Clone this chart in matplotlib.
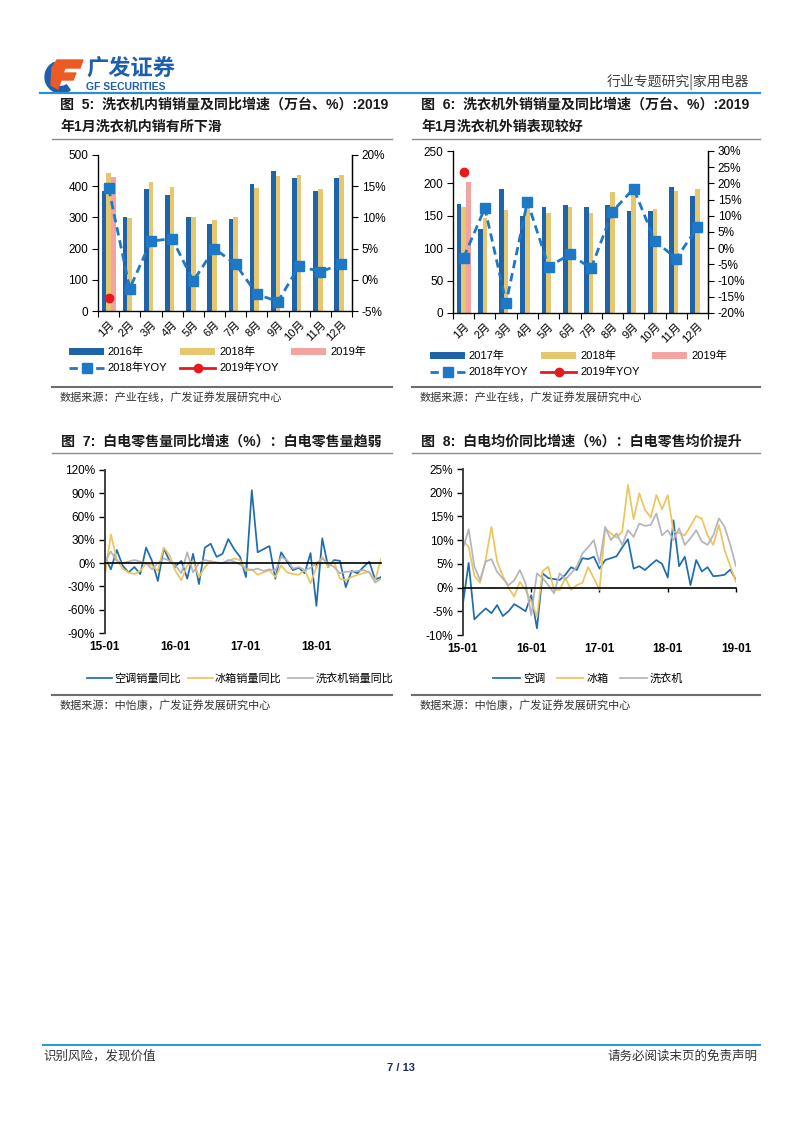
import matplotlib
matplotlib.use('Agg')
import matplotlib.pyplot as plt
import numpy as np
from matplotlib.lines import Line2D
from matplotlib.patches import Wedge, Polygon
from matplotlib.ticker import FixedLocator

plt.rcParams['font.family'] = ['Liberation Sans', 'Noto Sans CJK SC', 'DejaVu Sans']
plt.rcParams['axes.unicode_minus'] = False

# ---------------- data ----------------
months = ['1月', '2月', '3月', '4月', '5月', '6月', '7月', '8月', '9月', '10月', '11月', '12月']

dom_2016 = [386, 300, 390, 372, 302, 280, 295, 407, 450, 425, 386, 425]
dom_2018 = [443, 297, 414, 397, 301, 293, 301, 395, 433, 435, 392, 436]
dom_2019 = [430]
dom_yoy_2018 = [14.7, -1.4, 6.2, 6.6, -0.2, 5.0, 2.5, -2.3, -3.5, 2.2, 1.3, 2.5]
dom_yoy_2019 = [-2.9]

exp_2017 = [168, 130, 192, 149, 163, 167, 164, 166, 157, 157, 194, 180]
exp_2018 = [163, 147, 159, 171, 154, 164, 154, 186, 186, 160, 188, 192]
exp_2019 = [202]
exp_yoy_2018 = [-2.9, 12.4, -16.9, 14.4, -5.7, -1.9, -6.2, 11.3, 18.4, 2.3, -3.2, 6.4]
exp_yoy_2019 = [23.5]

# retail volume YoY (%), 15-01 .. 18-12
vol_ac = [8, -8, 17, -3, -12, -5, -14, 20, 3, -23, 19, 3,
          -4, 3, -20, 12, -27, 20, 25, 8, 12, 31, 18, 8,
          -18, 94, 14, 18, 22, -20, 14, 2, -9, -6, -13, 13,
          -55, 32, -5, 4, 3, -31, -10, -13, -5, 2, -21, -18]
vol_fridge = [-15, 37, 5, -7, -12, -14, -10, 0, -3, -10, 20, 10,
              -10, -22, -3, 3, -18, -5, 3, 0, 0, 3, 6, 4,
              -10, -8, -15, -12, -9, -18, -3, -12, -14, -15, -9, -26,
              -5, 8, -5, 2, -20, -22, -18, -15, -13, -11, -22, 5]
vol_washer = [3, 15, 3, 0, 2, 4, 2, 0, -8, 0, 6, 3,
              -3, -13, 14, -12, 0, 4, 2, 1, 0, 4, 2, -2,
              -7, -9, -7, -10, -8, -10, 8, 4, -7, -5, -9, -6,
              0, 6, 0, -5, -13, -11, -11, -10, -9, -12, -25, -20]
vol_ticks = ['15-01', '16-01', '17-01', '18-01']

# average price YoY (%), 15-01 .. 19-01
price_ac = [-3.3, 5.2, -6.7, -5.5, -4.4, -5.4, -3.7, -6.0, -5.0, -3.5, -4.2, -5.0,
            -1.6, -8.6, 3.0, 2.0, 1.8, 1.6, 2.7, 4.3, 3.7, 6.2, 6.0, 6.5,
            4.0, 5.8, 6.2, 6.6, 8.5, 10.2, 4.0, 4.5, 3.7, 4.8, 5.8, 5.0,
            2.1, 14.2, 4.5, 6.5, 0.5, 5.8, 3.4, 4.3, 2.4, 2.5, 2.7, 3.8, 1.6]
price_fridge = [10.0, 8.5, 2.5, 1.0, 6.0, 12.8, 5.5, 2.5, 0.0, -1.9, 1.2, -0.5,
                -3.0, -6.1, 3.5, 4.4, -0.5, -0.5, 2.0, -0.5, 0.5, 1.0, 4.3, 2.0,
                -0.5, 12.5, 11.4, 10.5, 11.8, 21.6, 14.4, 19.9, 16.4, 14.8, 19.5, 16.5,
                19.5, 11.8, 11.5, 11.0, 13.0, 15.1, 14.5, 11.0, 9.0, 13.2, 7.9, 4.5, 1.2]
price_washer = [8.3, 12.3, 4.4, 1.6, 5.5, 6.0, 3.3, 1.9, 0.5, 1.5, 3.7, 0.9,
                -5.8, 3.0, 2.0, 0.5, -1.2, 3.0, 1.7, 3.0, 4.4, 7.2, 8.5, 10.0,
                5.1, 12.8, 10.0, 11.4, 9.0, 12.1, 10.7, 13.5, 13.0, 13.2, 15.6, 11.0,
                12.1, 10.0, 12.5, 9.0, 10.4, 12.1, 9.7, 9.0, 11.0, 14.6, 12.8, 9.0, 4.5]
price_ticks = ['15-01', '16-01', '17-01', '18-01', '19-01']

# ---------------- styling ----------------
C_BLUE = '#1F64A8'
C_TAN = '#E6C76E'
C_PINK = '#F4A3A3'
C_YOY = '#1E78C8'
C_RED = '#E8191B'
C_AC = '#1F6CB0'
C_FR = '#EBC55E'
C_WA = '#B4B4BC'
CJK = ['Noto Sans CJK SC', 'DejaVu Sans']
MIX = ['Liberation Sans', 'Noto Sans CJK SC', 'DejaVu Sans']

W, H = 802, 1133
fig = plt.figure(figsize=(W / 100, H / 100), dpi=100)


def fx(x):
    return x / W


def fy(y):
    return 1 - y / H


def ax_at(l, t, r, b):
    return fig.add_axes([l / W, 1 - b / H, (r - l) / W, (b - t) / H])


def hline(x0, x1, y, color, lw):
    fig.add_artist(Line2D([fx(x0), fx(x1)], [fy(y), fy(y)], color=color, lw=lw,
                          transform=fig.transFigure))


# ---------------- header ----------------
logo = ax_at(44, 56, 84, 94)
logo.set_xlim(0, 40)
logo.set_ylim(0, 38)
logo.axis('off')
logo.add_patch(Wedge((17, 17), 16, 115, 305, width=6.5, color='#1D5FAF'))
logo.add_patch(Polygon([[13, 34], [39, 34], [36, 26], [21, 26], [19, 21], [32, 21],
                        [29, 14], [17, 14], [14, 5], [7, 9], [8, 26]],
                       closed=True, color='#EE5A24'))
fig.text(fx(86), fy(69), '广发证券', fontsize=16, fontweight='bold', color='#1D5FAF',
         family=CJK, ha='left', va='center')
fig.text(fx(86), fy(86.5), 'GF SECURITIES', fontsize=7.5, fontweight='bold', color='#1D5FAF',
         ha='left', va='center')
fig.text(fx(749), fy(82), '行业专题研究|家用电器', fontsize=10, color='#404040',
         family=CJK, ha='right', va='center')
hline(40, 760, 93, '#2A8FCF', 1.6)


# ---------------- bar charts ----------------
def bar_chart(l, t, r, b, s1, s2, s3, yoy, yoy19, names, ylim_l, yt_l, ylim_r, yt_r,
              leg_x, leg_y):
    ax = ax_at(l, t, r, b)
    x = np.arange(len(months))
    w = 0.22
    h1 = ax.bar(x - w, s1, w, color=C_BLUE, label=names[0])
    h2 = ax.bar(x, s2, w, color=C_TAN, label=names[1])
    h3 = ax.bar(x[:len(s3)] + w, s3, w, color=C_PINK, label=names[2])
    ax.set_xlim(-0.5, 11.5)
    ax.set_ylim(*ylim_l)
    ax.set_yticks(yt_l)
    ax.set_yticklabels([str(v) for v in yt_l], fontsize=8.5)
    ax.set_xticks(x)
    ax.set_xticklabels(months, rotation=45, ha='right', rotation_mode='anchor',
                       fontsize=8, family=MIX)
    ax.xaxis.set_minor_locator(FixedLocator(np.arange(-0.5, 12, 1)))
    ax.tick_params(axis='x', which='major', length=0, pad=6)
    ax.tick_params(axis='x', which='minor', length=4, width=0.8)
    ax.tick_params(axis='y', length=4, width=0.8, pad=3)
    ax.spines['top'].set_visible(False)
    for s in ['left', 'bottom', 'right']:
        ax.spines[s].set_linewidth(0.9)
    ax2 = ax.twinx()
    l1, = ax2.plot(x, yoy, ls='--', color=C_YOY, lw=2, marker='s', ms=6.5,
                   dashes=(3, 1.8), label=names[3])
    l2, = ax2.plot(x[:len(yoy19)], yoy19, color=C_RED, lw=2, marker='o', ms=6,
                   label=names[4])
    ax2.set_ylim(*ylim_r)
    ax2.set_yticks(yt_r)
    ax2.set_yticklabels([f'{v}%' for v in yt_r], fontsize=8.5)
    ax2.tick_params(axis='y', length=4, width=0.8, pad=3)
    ax2.spines['top'].set_visible(False)
    ax2.spines['right'].set_linewidth(0.9)
    hd = [h1, l1, h2, l2, h3]
    lb = [names[0], names[3], names[1], names[4], names[2]]
    fig.legend(hd, lb, loc='upper left', bbox_to_anchor=(fx(leg_x), fy(leg_y)),
               ncol=3, frameon=False, prop={'family': MIX, 'size': 8},
               handlelength=3.15, handleheight=0.55, handletextpad=0.35,
               columnspacing=1.15, labelspacing=0.5, borderpad=0, borderaxespad=0)
    return ax


bar_chart(98, 155, 352, 311, dom_2016, dom_2018, dom_2019, dom_yoy_2018, dom_yoy_2019,
          ['2016年', '2018年', '2019年', '2018年YOY', '2019年YOY'],
          (0, 500), list(range(0, 501, 100)), (-5, 20), [-5, 0, 5, 10, 15, 20], 69, 347)
bar_chart(453, 151, 708, 313, exp_2017, exp_2018, exp_2019, exp_yoy_2018, exp_yoy_2019,
          ['2017年', '2018年', '2019年', '2018年YOY', '2019年YOY'],
          (0, 250), list(range(0, 251, 50)), (-20, 30), list(range(-20, 31, 5)), 430, 351)


# ---------------- line charts ----------------
def line_chart(l, t, r, b, series, colors, names, ylim, yt, xmax, ticks, labels, pad,
               leg_x, leg_y, hlen, tpad, colsp):
    ax = ax_at(l, t, r, b)
    hs = []
    for s, c, n in zip(series, colors, names):
        h, = ax.plot(np.arange(len(s)), s, color=c, lw=1.25, label=n)
        hs.append(h)
    ax.set_xlim(0, xmax)
    ax.set_ylim(*ylim)
    ax.set_yticks(yt)
    ax.set_yticklabels([f'{v}%' for v in yt], fontsize=8.5)
    ax.spines['top'].set_visible(False)
    ax.spines['right'].set_visible(False)
    ax.spines['left'].set_color('#404040')
    ax.spines['left'].set_linewidth(1.4)
    ax.spines['bottom'].set_position(('data', 0))
    ax.spines['bottom'].set_color('black')
    ax.spines['bottom'].set_linewidth(1.2)
    ax.set_xticks(ticks)
    ax.set_xticklabels(labels, fontsize=8.5, fontweight='bold')
    ax.tick_params(axis='x', length=3, width=1, pad=pad)
    ax.tick_params(axis='y', length=4, width=1, pad=3)
    fig.legend(hs, names, loc='upper left', bbox_to_anchor=(fx(leg_x), fy(leg_y)),
               ncol=3, frameon=False, prop={'family': CJK, 'size': 8},
               handlelength=hlen, handletextpad=tpad, columnspacing=colsp,
               borderpad=0, borderaxespad=0)
    return ax


line_chart(105, 470, 381, 633, [vol_ac, vol_fridge, vol_washer], [C_AC, C_FR, C_WA],
           ['空调销量同比', '冰箱销量同比', '洗衣机销量同比'],
           (-90, 120), list(range(-90, 121, 30)), 47, [0, 12, 24, 36], vol_ticks, 53,
           87, 673, 2.25, 0.2, 0.6)
line_chart(463, 469, 736, 635, [price_ac, price_fridge, price_washer], [C_AC, C_FR, C_WA],
           ['空调', '冰箱', '洗衣机'],
           (-10, 25), list(range(-10, 26, 5)), 48, [0, 12, 24, 36, 48], price_ticks, 37,
           493, 673, 2.4, 0.27, 1.05)

# ---------------- titles, rules, sources ----------------
tkw = dict(fontsize=10.1, fontweight='bold', color='#1a1a1a', family=MIX, ha='left',
           va='center')
fig.text(fx(60), fy(105), '图  5:  洗衣机内销销量及同比增速（万台、%）:2019', **tkw)
fig.text(fx(60), fy(127), '年1月洗衣机内销有所下滑', **tkw)
fig.text(fx(421), fy(105), '图  6:  洗衣机外销销量及同比增速（万台、%）:2019', **tkw)
fig.text(fx(421), fy(127), '年1月洗衣机外销表现较好', **tkw)
fig.text(fx(61), fy(442), '图  7:  白电零售量同比增速（%）：白电零售量趋弱', **tkw)
fig.text(fx(421), fy(442), '图  8:  白电均价同比增速（%）：白电零售均价提升', **tkw)

for (x0, x1) in [(52, 392), (412, 760)]:
    hline(x0, x1, 138.5, '#8c8c8c', 1.0)
    hline(x0, x1, 386.5, '#6e6e6e', 1.5)
    hline(x0, x1, 452.5, '#8c8c8c', 1.0)
    hline(x0, x1, 695, '#6e6e6e', 1.5)

skw = dict(fontsize=8, color='#333333', family=CJK, ha='left', va='center')
fig.text(fx(60), fy(397), '数据来源：产业在线，广发证券发展研究中心', **skw)
fig.text(fx(420), fy(397), '数据来源：产业在线，广发证券发展研究中心', **skw)
fig.text(fx(60), fy(705), '数据来源：中怡康，广发证券发展研究中心', **skw)
fig.text(fx(420), fy(705), '数据来源：中怡康，广发证券发展研究中心', **skw)

# ---------------- footer ----------------
hline(43, 760, 1045, '#2A9BD6', 1.5)
fig.text(fx(43), fy(1056), '识别风险，发现价值', fontsize=9, color='#333333', family=CJK,
         ha='left', va='center')
fig.text(fx(758), fy(1056), '请务必阅读末页的免责声明', fontsize=9, color='#333333',
         family=CJK, ha='right', va='center')
fig.text(fx(401), fy(1068), '7 / 13', fontsize=8, fontweight='bold', color='#1A2B5A',
         ha='center', va='center')

fig.savefig('out.png', dpi=100)
